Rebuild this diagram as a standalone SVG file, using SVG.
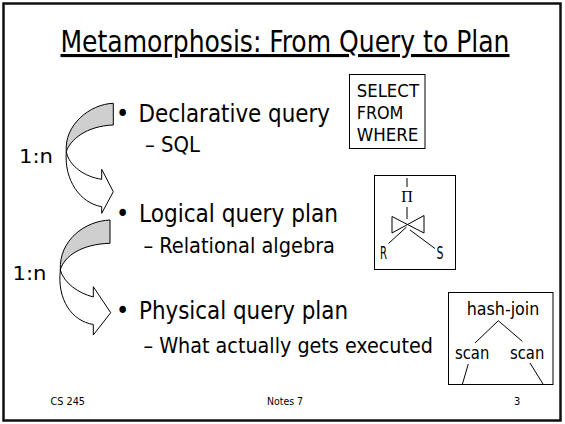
<svg xmlns="http://www.w3.org/2000/svg" width="565" height="424" viewBox="0 0 565 424">
  <style>
    .t { font-family: "DejaVu Sans Condensed", "DejaVu Sans", "Liberation Sans", sans-serif; fill: #000; }
    .main { font-size: 25px; }
    .sub { font-size: 21px; }
    .box { fill: #fff; stroke: #000; stroke-width: 1; }
    .ln { stroke: #000; stroke-width: 1; fill: none; }
    .back { fill: #cfcfcf; stroke: #000; stroke-width: 1; stroke-linejoin: round; }
    .front { fill: #fff; stroke: #000; stroke-width: 1; stroke-linejoin: round; }
    .foot { font-size: 11px; }
  </style>

  <!-- slide background and frame -->
  <rect x="0" y="0" width="565" height="424" fill="#fff"/>
  <rect x="3.5" y="3.5" width="557" height="417" fill="none" stroke="#111" stroke-width="2.5"/>

  <!-- title -->
  <g id="title">
    <text class="t" x="60.5" y="52" font-size="31" text-decoration="underline" textLength="449" lengthAdjust="spacingAndGlyphs">Metamorphosis: From Query to Plan</text>
  </g>

  <!-- curved block arrows between the three levels -->
  <g id="connectors">
    <g id="arrow-query-to-logical">
      <path class="back" d="M113.3,103.3 C90,104 64,125 66.3,151.7 C70,140 86,126 113.3,125 Z"/>
      <path class="front" d="M66.3,151.7 C64,180 80,203 101.7,206.7 L101.7,213.3 L113.3,191.7 L101.7,169.3 L101.7,179.3 C85,177 69,166 66.3,151.7 Z"/>
    </g>
    <g id="arrow-logical-to-physical">
      <path class="back" d="M110,220 C85,221 59,240 60.3,270 C64,256 82,244 110,243.3 Z"/>
      <path class="front" d="M60.3,270 C57,300 72,321 93.3,324.5 L93.3,335 L110.7,312.7 L93.3,286.7 L93.3,297 C78,293 64,283 60.3,270 Z"/>
    </g>
  </g>

  <!-- multiplicity labels -->
  <g id="label-1n-a">
    <text class="t" x="19" y="163" font-size="19" textLength="34" lengthAdjust="spacingAndGlyphs">1:n</text>
  </g>
  <g id="label-1n-b">
    <text class="t" x="12.5" y="280" font-size="19" textLength="34" lengthAdjust="spacingAndGlyphs">1:n</text>
  </g>

  <!-- bullet list -->
  <g id="item-declarative">
    <text class="t main" x="116" y="121.5">•</text>
    <text class="t main" x="138.5" y="121.5" textLength="191.5" lengthAdjust="spacingAndGlyphs">Declarative query</text>
    <text class="t sub" x="145" y="151.5" textLength="55" lengthAdjust="spacingAndGlyphs">– SQL</text>
  </g>
  <g id="item-logical">
    <text class="t main" x="116" y="221.5">•</text>
    <text class="t main" x="139" y="221.5" textLength="199" lengthAdjust="spacingAndGlyphs">Logical query plan</text>
    <text class="t sub" x="143.5" y="252.5" textLength="191.5" lengthAdjust="spacingAndGlyphs">– Relational algebra</text>
  </g>
  <g id="item-physical">
    <text class="t main" x="116" y="319">•</text>
    <text class="t main" x="139" y="319" textLength="209" lengthAdjust="spacingAndGlyphs">Physical query plan</text>
    <text class="t sub" x="143.5" y="353" textLength="289.5" lengthAdjust="spacingAndGlyphs">– What actually gets executed</text>
  </g>

  <!-- SQL skeleton -->
  <g id="box-sql">
    <rect class="box" x="349.5" y="74.5" width="75.5" height="74"/>
    <text class="t" x="356.7" y="97.3" font-size="18" textLength="62.3" lengthAdjust="spacingAndGlyphs">SELECT</text>
    <text class="t" x="356.7" y="118.8" font-size="18" textLength="46.7" lengthAdjust="spacingAndGlyphs">FROM</text>
    <text class="t" x="356.7" y="140.5" font-size="18" textLength="61.7" lengthAdjust="spacingAndGlyphs">WHERE</text>
  </g>

  <!-- relational algebra tree: projection over a join of R and S -->
  <g id="box-algebra">
    <rect class="box" x="374.5" y="175.5" width="81" height="94"/>
    <line class="ln" x1="407" y1="178" x2="407" y2="187"/>
    <text x="407" y="202" font-family="Liberation Serif, serif" font-size="16" text-anchor="middle">Π</text>
    <line class="ln" x1="407" y1="207" x2="407" y2="219"/>
    <path class="ln" d="M392,216.5 L424,233 L424,215.5 L392,233 Z"/>
    <line class="ln" x1="406.5" y1="227" x2="388.5" y2="243.5"/>
    <line class="ln" x1="410" y1="230" x2="435" y2="248.5"/>
    <text class="t" x="380" y="258.5" font-size="18" textLength="7" lengthAdjust="spacingAndGlyphs">R</text>
    <text class="t" x="436.5" y="258.5" font-size="18" textLength="7" lengthAdjust="spacingAndGlyphs">S</text>
  </g>

  <!-- physical plan tree -->
  <g id="box-physical">
    <rect class="box" x="448.5" y="292.5" width="104.5" height="92"/>
    <text class="t" x="466.7" y="314.5" font-size="17" textLength="72.6" lengthAdjust="spacingAndGlyphs">hash-join</text>
    <line class="ln" x1="498.3" y1="320.7" x2="475" y2="343"/>
    <line class="ln" x1="498.3" y1="320.7" x2="522.3" y2="341.3"/>
    <text class="t" x="455" y="358.7" font-size="17" textLength="34.3" lengthAdjust="spacingAndGlyphs">scan</text>
    <text class="t" x="510" y="358.7" font-size="17" textLength="34.3" lengthAdjust="spacingAndGlyphs">scan</text>
    <line class="ln" x1="468.3" y1="364" x2="462.3" y2="384.5"/>
    <line class="ln" x1="530" y1="363" x2="543.3" y2="384.5"/>
  </g>

  <!-- footer -->
  <g id="footer">
    <text class="t foot" x="50.5" y="405" textLength="34.5" lengthAdjust="spacingAndGlyphs">CS 245</text>
    <text class="t foot" x="267" y="405" textLength="36" lengthAdjust="spacingAndGlyphs">Notes 7</text>
    <text class="t foot" x="514" y="405">3</text>
  </g>
</svg>
